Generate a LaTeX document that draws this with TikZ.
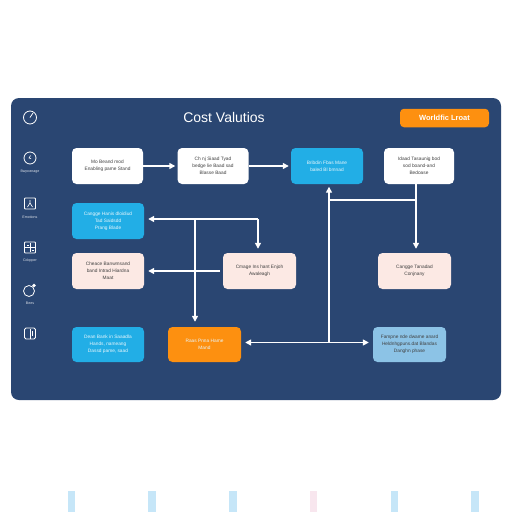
\documentclass[tikz,border=0pt]{standalone}
\usepackage{fontspec}
\setmainfont{Liberation Sans}
\usetikzlibrary{arrows.meta,calc}
\definecolor{navy}{HTML}{2A4672}
\definecolor{cyanbox}{HTML}{22AEE6}
\definecolor{pinkbox}{HTML}{FCE9E4}
\definecolor{orangebox}{HTML}{FD9010}
\definecolor{paleblue}{HTML}{8CC3E6}
\definecolor{barblue}{HTML}{C6E6F8}
\definecolor{barpink}{HTML}{F8E6EE}
\tikzset{
  card/.style={rounded corners=4.5pt,minimum width=71pt,minimum height=36pt,inner sep=0pt,align=center,font=\fontsize{4.8}{7}\selectfont,text=black!75},
  lighttext/.style={text=white!90!cyanbox},
  flow/.style={draw=white,line width=1.4pt},
  head/.style={-{Triangle[length=6pt,width=6pt]}},
  heads/.style={{Triangle[length=6pt,width=6pt]}-{Triangle[length=6pt,width=6pt]}},
  icon/.style={draw=white,line width=.8pt},
  sidelabel/.style={text=white!85!navy,font=\fontsize{3.6}{4}\selectfont,inner sep=0pt},
  bar/.style={minimum width=7.5pt,minimum height=21pt,inner sep=0pt}
}
\begin{document}
\begin{tikzpicture}[x=1pt,y=-1pt]
\useasboundingbox (0,0) rectangle (512,512);
\fill[white] (0,0) rectangle (512,512);
\fill[navy,rounded corners=8pt] (11,98) rectangle (501,400);

\node[text=white,font=\fontsize{14}{16}\selectfont,inner sep=0pt] (title) at (224,117.5) {Cost Valutios};
\node[fill=orangebox,rounded corners=4pt,minimum width=89pt,minimum height=18.5pt,inner sep=0pt,text=white,font=\fontsize{7.5}{9}\selectfont\bfseries] (badge) at (444.5,118) {Worldfic Lroat};

% boxes
\node[card,fill=white] (b1) at (107.5,166) {Mo Beand mod\\Enabling pame Stand};
\node[card,fill=white] (b2) at (213,166) {Ch nj Siaad Tyad\\bedge lie Baad sad\\Blasse Baad};
\node[card,fill=cyanbox,lighttext,minimum width=72pt] (b3) at (327,166) {Bribdin Fbas Mane\\baled Bl bmnad};
\node[card,fill=white,minimum width=70pt] (b4) at (419,166) {Idaad Tasaunig bod\\sod boand-and\\Bedoase};
\node[card,fill=cyanbox,lighttext,minimum width=72pt] (b5) at (108,221) {Cangge Hanis dloidiud\\Tad Saidsdd\\Prang Blade};
\node[card,fill=pinkbox,minimum width=72pt] (b6) at (108,271) {Cheace Banwmsand\\band Intrad Hiardna\\Maat};
\node[card,fill=pinkbox,minimum width=73pt] (b7) at (259.5,271) {Cmage Ins hant Enjoh\\Awaleagh};
\node[card,fill=pinkbox,minimum width=73pt] (b8) at (414.5,271) {Cangge Tanadad\\Conjnany};
\node[card,fill=cyanbox,lighttext,minimum width=72pt,minimum height=35pt] (b9) at (108,344.5) {Dean Bank in Saaadla\\Hands, nameang\\Dassd pame, saad};
\node[card,fill=orangebox,lighttext,minimum width=73pt,minimum height=35pt] (b10) at (204.5,344.5) {Raas Pnna Hame\\Mand};
\node[card,fill=paleblue,minimum width=73pt,minimum height=35pt] (b11) at (409.5,344.5) {Fampne nde dwame anard\\Heldnhgpuns.dat Blandas\\Danghn phase};

% junctions
\coordinate (j1) at (195,219);
\coordinate (j2) at (258,219);
\coordinate (j4) at (416,200);
\coordinate (j5) at (329,200);
\coordinate (j6) at (329,342.5);

% connectors
\draw[flow,head,shorten >=2pt] (b1.east) -- (b2.west);
\draw[flow,head,shorten >=2pt] (b2.east) -- (b3.west);
\draw[flow,head,shorten >=4pt] (j1) -- (j1 -| b5.east);
\draw[flow] (j1) -- (j2);
\draw[flow,head,shorten >=4pt] (j2) -- (j2 |- b7.north);
\draw[flow,head,shorten >=5pt] (j1) -- (j1 |- b10.north);
\draw[flow,head,shorten >=4pt,shorten <=3pt] (b7.west) -- (b6.east);
\draw[flow,head,shorten >=4pt] (j4 |- b4.south) -- (j4 |- b8.north);
\draw[flow] (j4) -- (j5);
\draw[flow,head,shorten >=2.5pt] (j6) -- (j6 |- b3.south);
\draw[flow,heads,shorten >=4pt,shorten <=4pt] (j6 -| b10.east) -- (j6 -| b11.west);

% sidebar icons
\draw[icon] (30,117.5) circle (6.5pt);
\draw[icon] (30,117.5) -- (33,113);
\draw[icon] (30,158) circle (6pt);
\draw[icon,line width=.6pt] (30.5,155.5) -- (29,158) -- (31,158.5);
\node[sidelabel] (s1) at (30,172) {Bwpoznage};
\draw[icon,rounded corners=.8pt] (24.5,198) rectangle (35.5,209);
\draw[icon,line width=.6pt] (30,200) -- (30,203) (30,203) -- (27.5,207) (30,203) -- (32.5,207);
\node[sidelabel] (s2) at (30,217) {Emotions};
\draw[icon,rounded corners=.8pt] (24.5,242) rectangle (35.5,253);
\draw[icon,line width=.6pt] (30,243) -- (30,252) (25,247.5) -- (35,247.5) (26.5,245) -- (28.5,245) (31.5,250) -- (33.5,250);
\node[sidelabel] (s3) at (30,260.5) {Cdopper};
\draw[icon] (29,291) circle (5.5pt);
\fill[white] (34,285.5) circle (1.8pt);
\node[sidelabel] (s4) at (30,303.5) {Bees};
\draw[icon,rounded corners=1.5pt] (24.5,328) rectangle (35.5,339);
\draw[icon,line width=.6pt] (30,329) -- (30,339) (32,331) -- (32,336);

% bottom bars
\foreach \n/\cx/\c in {1/71.5/barblue,2/152/barblue,3/233/barblue,4/313.5/barpink,5/394.5/barblue,6/475/barblue}
  \node[bar,fill=\c,anchor=north] (bar\n) at (\cx,491) {};
\end{tikzpicture}
\end{document}
